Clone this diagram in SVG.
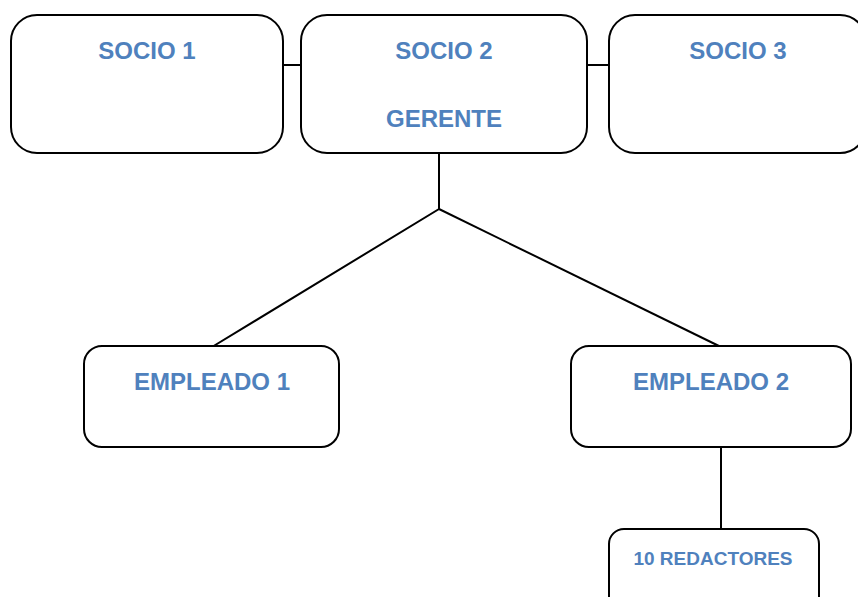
<svg xmlns="http://www.w3.org/2000/svg" width="858" height="597" viewBox="0 0 858 597">
<style>
.box{fill:#fff;stroke:#000;stroke-width:2}
.lbl{font-family:"Liberation Sans",Arial,sans-serif;font-weight:bold;fill:#4F81BD;text-anchor:middle}
.conn{stroke:#000;stroke-width:2;fill:none}
</style>
<rect width="858" height="597" fill="#fff"/>
<g id="connectors">
<line class="conn" x1="283" y1="65" x2="301" y2="65"/>
<line class="conn" x1="587" y1="65" x2="609" y2="65"/>
<polyline class="conn" points="439,153 439,209 212,347"/>
<line class="conn" x1="439" y1="209" x2="721" y2="347"/>
<line class="conn" x1="721" y1="447" x2="721" y2="529"/>
</g>
<g id="socio1">
<rect class="box" x="11" y="15" width="272" height="138" rx="26"/>
<text class="lbl" x="147" y="59" font-size="24">SOCIO 1</text>
</g>
<g id="socio2">
<rect class="box" x="301" y="15" width="286" height="138" rx="26"/>
<text class="lbl" x="444" y="59" font-size="24">SOCIO 2</text>
<text class="lbl" x="444" y="127" font-size="24">GERENTE</text>
</g>
<g id="socio3">
<rect class="box" x="609" y="15" width="257" height="138" rx="26"/>
<text class="lbl" x="738" y="59" font-size="24">SOCIO 3</text>
</g>
<g id="empleado1">
<rect class="box" x="84" y="346" width="255" height="101" rx="18"/>
<text class="lbl" x="212" y="390" font-size="24">EMPLEADO 1</text>
</g>
<g id="empleado2">
<rect class="box" x="571" y="346" width="280" height="101" rx="18"/>
<text class="lbl" x="711" y="390" font-size="24">EMPLEADO 2</text>
</g>
<g id="redactores">
<rect class="box" x="609" y="529" width="210" height="90" rx="15"/>
<text class="lbl" x="713" y="565" font-size="19">10 REDACTORES</text>
</g>
</svg>
